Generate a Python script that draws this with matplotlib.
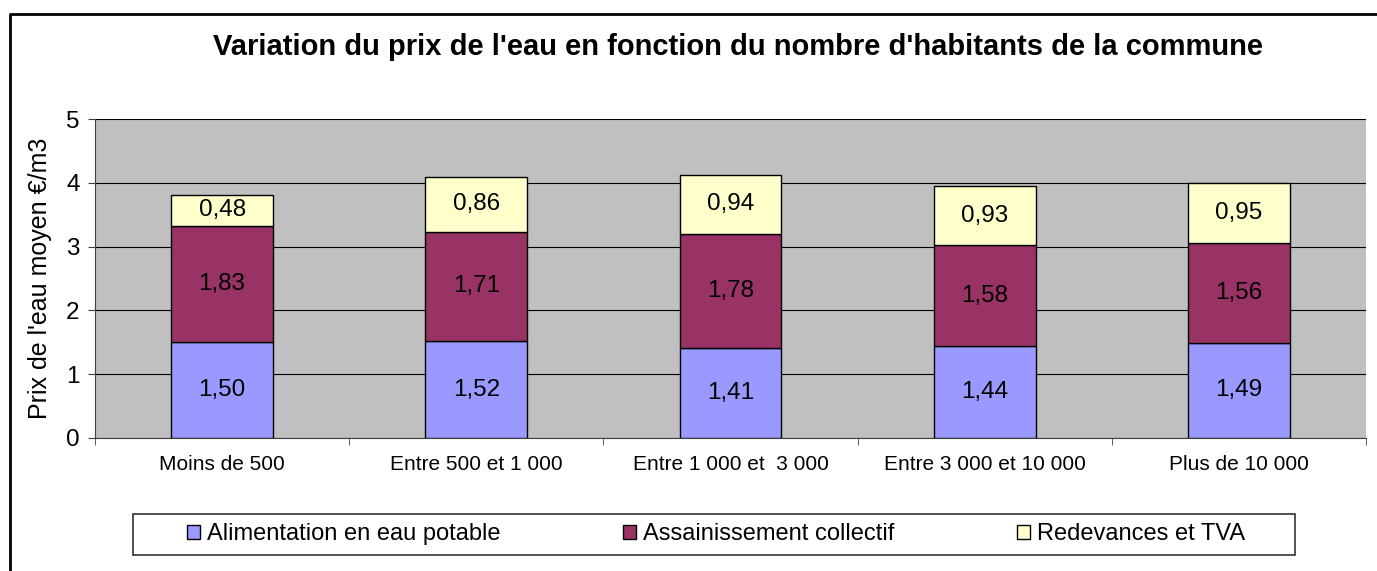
import numpy as np
import matplotlib.pyplot as plt
from matplotlib.patches import Rectangle
from matplotlib.lines import Line2D

plt.rcParams['font.family'] = ['Liberation Sans', 'DejaVu Sans']

categories = ['Moins de 500', 'Entre 500 et 1 000', 'Entre 1 000 et  3 000',
              'Entre 3 000 et 10 000', 'Plus de 10 000']
alimentation = [1.50, 1.52, 1.41, 1.44, 1.49]
assainissement = [1.83, 1.71, 1.78, 1.58, 1.56]
redevances = [0.48, 0.86, 0.94, 0.93, 0.95]

series = [
    ('Alimentation en eau potable', alimentation, '#9999FF'),
    ('Assainissement collectif', assainissement, '#993366'),
    ('Redevances et TVA', redevances, '#FFFFCC'),
]

W, H = 1377, 571
fig = plt.figure(figsize=(W / 100, H / 100), dpi=100)
ax = fig.add_axes([95/W, 1 - 438/H, 1271/W, 319/H])
ax.set_facecolor('#C0C0C0')

x = np.arange(len(categories))
bottom = np.zeros(len(categories))
handles = []
for name, vals, col in series:
    b = ax.bar(x, vals, 0.4, bottom=bottom, color=col, edgecolor='black',
               linewidth=1, label=name, zorder=3)
    handles.append(b)
    for xi, v, bt in zip(x, vals, bottom):
        ax.text(xi, bt + v / 2, ('%.2f' % v).replace('.', ','), ha='center',
                va='center', fontsize=17.5, zorder=4)
    bottom = bottom + np.array(vals)

ax.set_xlim(-0.5, len(categories) - 0.5)
ax.set_ylim(0, 5)
ax.set_yticks(range(6))
ax.yaxis.grid(True, color='black', linewidth=0.8, zorder=1)
ax.set_axisbelow(True)
ax.set_xticks(x)
ax.set_xticklabels(categories, fontsize=15)
ax.set_xticks(np.arange(-0.5, len(categories)), minor=True)
ax.tick_params(axis='x', which='major', length=0, pad=12)
ax.tick_params(axis='x', which='minor', length=5, color='#404040')
ax.tick_params(axis='y', labelsize=17.5, length=5, color='#404040', pad=6)
for s in ['top', 'right']:
    ax.spines[s].set_visible(False)
ax.spines['left'].set_color('#404040')
ax.spines['bottom'].set_color('#404040')
ax.set_ylabel("Prix de l'eau moyen €/m3", fontsize=18, labelpad=10)

fig.text(738/W, 1 - 47/H, "Variation du prix de l'eau en fonction du nombre d'habitants de la commune",
         ha='center', va='center', fontsize=21, fontweight='bold')

# legend box drawn separately (wide padding like the original)
fig.patches.append(Rectangle((133/W, 1 - 555/H), 1162/W, 41/H, transform=fig.transFigure,
                             facecolor='white', edgecolor='#333333', linewidth=1.2))
leg = fig.legend(handles=handles, loc='center', bbox_to_anchor=(716/W, 1 - 534/H),
                 ncol=3, fontsize=17, frameon=False,
                 handlelength=0.55, handleheight=0.55, columnspacing=5.2,
                 borderpad=0.2, handletextpad=0.3)

# outer chart border (only left and top visible in the original crop)
fig.lines.append(Line2D([10/W, 10/W, 1], [0, 1 - 14/H, 1 - 14/H], transform=fig.transFigure,
                        color='black', linewidth=2))

fig.savefig('out.png', dpi=100)
